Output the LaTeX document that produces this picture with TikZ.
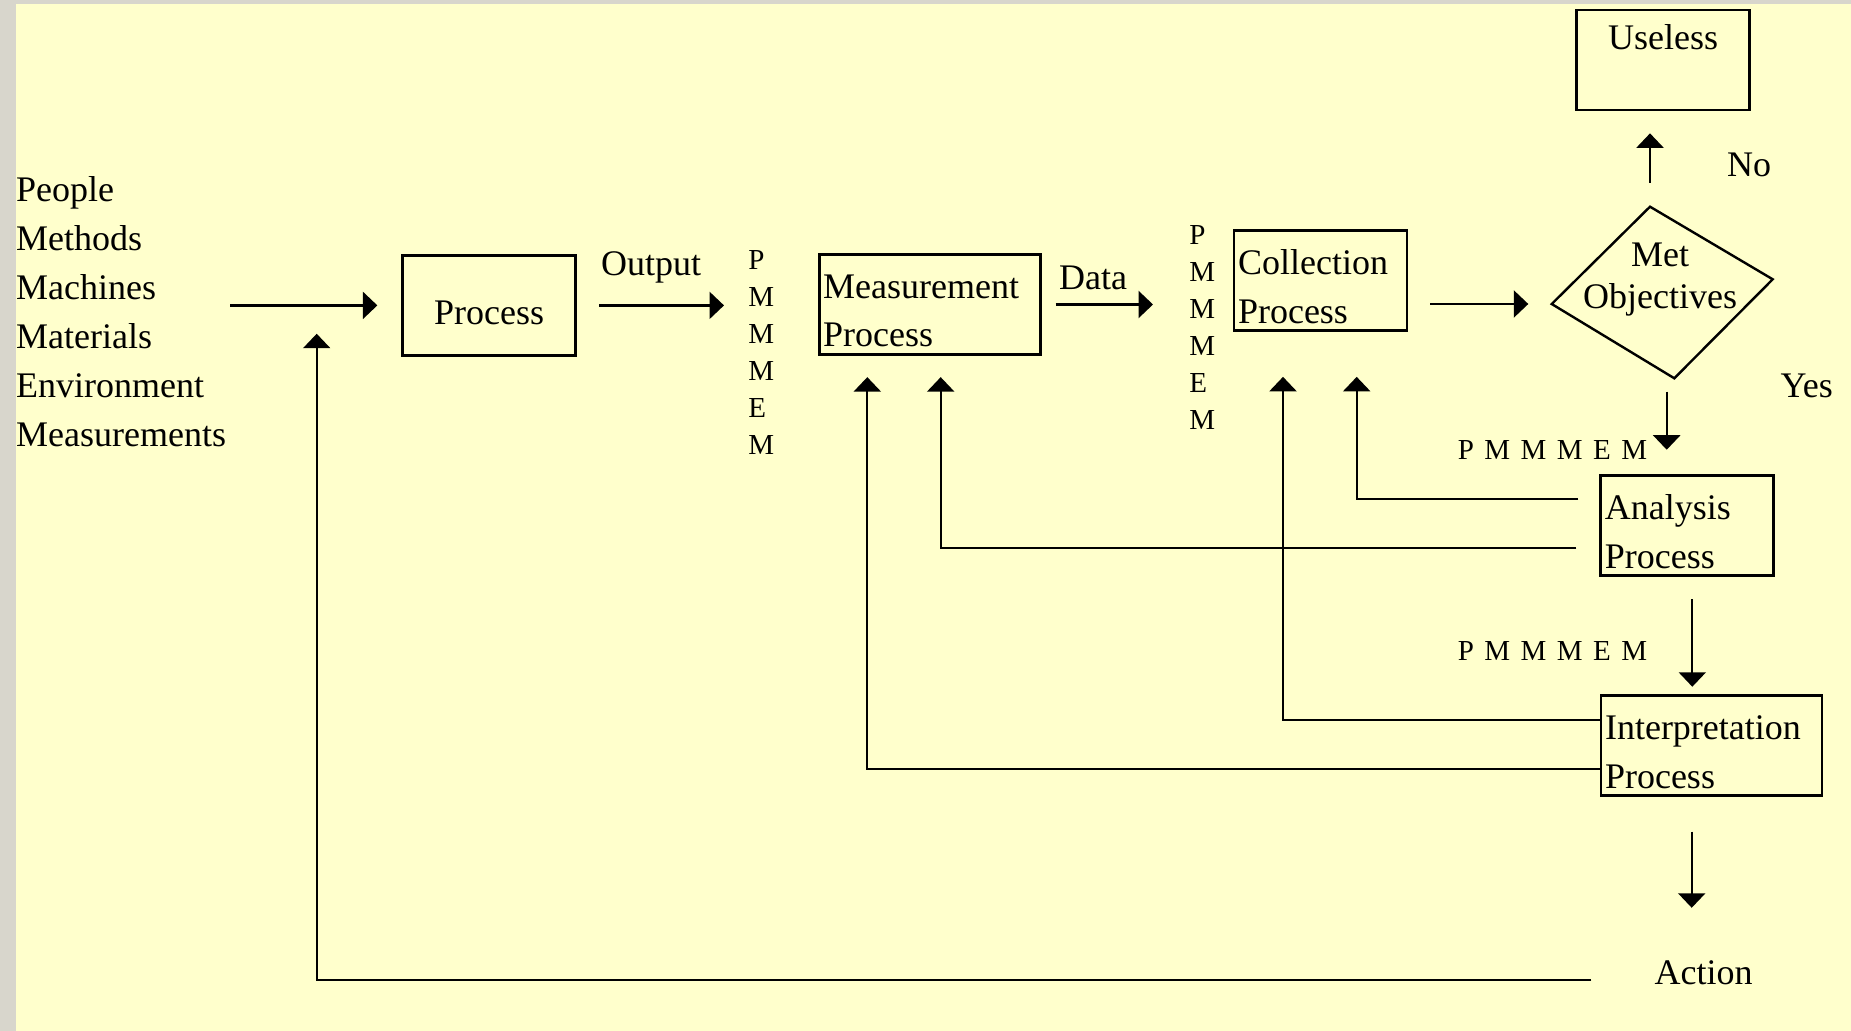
\documentclass[tikz,border=0pt]{standalone}
\usepackage{fontspec}
\setmainfont{Liberation Serif}
\usetikzlibrary{arrows.meta}
\definecolor{slide}{RGB}{255,255,204}
\definecolor{marble}{RGB}{216,214,204}
\newcommand\pmfont{\fontsize{14.5}{18.5}\selectfont\spaceskip .36em\relax}
\tikzstyle{block} = [rectangle, draw, line width=1.35pt, inner xsep=2pt, inner ysep=0pt,
    minimum height=50pt, text height=22pt, text depth=28pt, align=left,
    font=\fontsize{18}{24.2}\selectfont]
\tikzstyle{narrow} = [minimum width=86.5pt, text width=82.5pt]
\tikzstyle{wide} = [minimum width=110.5pt, text width=106.5pt]
\tikzstyle{txt} = [inner sep=0pt, font=\fontsize{18}{24.5}\selectfont]
\tikzstyle{small} = [inner sep=0pt, font=\pmfont]
\tikzstyle{line} = [draw, line width=1.15pt, -{Triangle[width=13.5pt,length=7.25pt]}]

\begin{document}
\begin{tikzpicture}[x=0.5pt, y=-0.5pt]

	\fill [marble] (0,0) rectangle (1851,1031);
	\fill [slide] (16,4) rectangle (1851,1031);
	\useasboundingbox (0,0) rectangle (1851,1031);

	\node [txt, anchor=base west, align=left] (inputs) at (15.7,446.7) {People\\Methods\\Machines\\Materials\\Environment\\Measurements};
	\node [block, narrow, align=center, text height=34.65pt, text depth=15.35pt] (proc) at (489.2,305.4) {Process};
	\node [txt, anchor=base] (output) at (651,276) {Output};
	\node [small, anchor=base west, align=left] (pm1) at (748,455) {P\\M\\M\\M\\E\\M};
	\node [block, wide] (meas) at (929.7,304.5) {Measurement\\Process};
	\node [txt, anchor=base] (data) at (1093,290) {Data};
	\node [small, anchor=base west, align=left] (pm2) at (1189,430) {P\\M\\M\\M\\E\\M};
	\node [block, narrow] (coll) at (1320.5,280.8) {Collection\\Process};

	\coordinate (dl) at (1551.7,304);
	\coordinate (dt) at (1650,206.7);
	\coordinate (dr) at (1772.7,279.3);
	\coordinate (db) at (1674.3,378.3);
	\draw [line width=1.2pt] (dl) -- (dt) -- (dr) -- (db) -- cycle;
	\node [txt, anchor=base, align=center, font=\fontsize{18}{20.65}\selectfont] (met) at (1660,308.3) {Met\\Objectives};

	\node [block, narrow, align=center, text height=19.65pt, text depth=30.35pt] (useless) at (1663,60) {Useless};
	\node [txt, anchor=base] (no) at (1749,176.7) {No};
	\node [txt, anchor=base] (yes) at (1806.7,397.3) {Yes};
	\node [small, anchor=base west] (pmA) at (1457.5,459.3) {P M M M E M};
	\node [block, narrow] (analysis) at (1687.3,525.7) {Analysis\\Process};
	\node [small, anchor=base west] (pmB) at (1457.5,660.7) {P M M M E M};
	\node [block, wide] (interp) at (1711.5,745.7) {Interpretation\\Process};
	\node [txt, anchor=base] (action) at (1703.7,984) {Action};

	\path [line, shorten <=2pt, shorten >=12pt] (inputs.east |- proc.west) -- (proc.west);
	\path [line, shorten <=11pt, shorten >=12pt] (proc.east) -- (proc.east -| pm1.west);
	\path [line, shorten <=7pt, shorten >=18pt] (meas.east) -- (meas.east -| pm2.west);
	\path [line, shorten <=11pt, shorten >=11.7pt] (coll.east |- dl) -- (dl);
	\path [line, shorten <=12pt, shorten >=11pt] (dt) -- (dt |- useless.south);
	\path [line, shorten <=6.7pt, shorten >=12.3pt] ([xshift=-3.8pt]db) -- ([xshift=-3.8pt]db |- analysis.north);
	\path [line, shorten <=11pt, shorten >=3.8pt] ([xshift=2.5pt]analysis.south) -- ([xshift=2.5pt]analysis.south |- interp.north);
	\path [line, shorten <=17.3pt, shorten >=26pt] ([xshift=-9.9pt]interp.south) -- ([xshift=-9.9pt]interp.south |- action.north);

	\path [line, shorten <=10.5pt, shorten >=22.35pt] ([yshift=13.2pt]analysis.west) -| ([xshift=18.1pt]coll.south);
	\path [line, shorten <=11.5pt, shorten >=10.65pt] ([yshift=-11.3pt]analysis.west) -| ([xshift=5.5pt]meas.south);
	\path [line, shorten >=22.35pt] ([yshift=12.85pt]interp.west) -| ([xshift=-18.75pt]coll.south);
	\path [line, shorten >=10.65pt] ([yshift=-11.8pt]interp.west) -| ([xshift=-31.2pt]meas.south);
	\path [line, shorten <=31.5pt] ([yshift=2pt]action.base west) -| ([xshift=-86.25pt, yshift=11.5pt]proc.south);
\end{tikzpicture}
\end{document}
